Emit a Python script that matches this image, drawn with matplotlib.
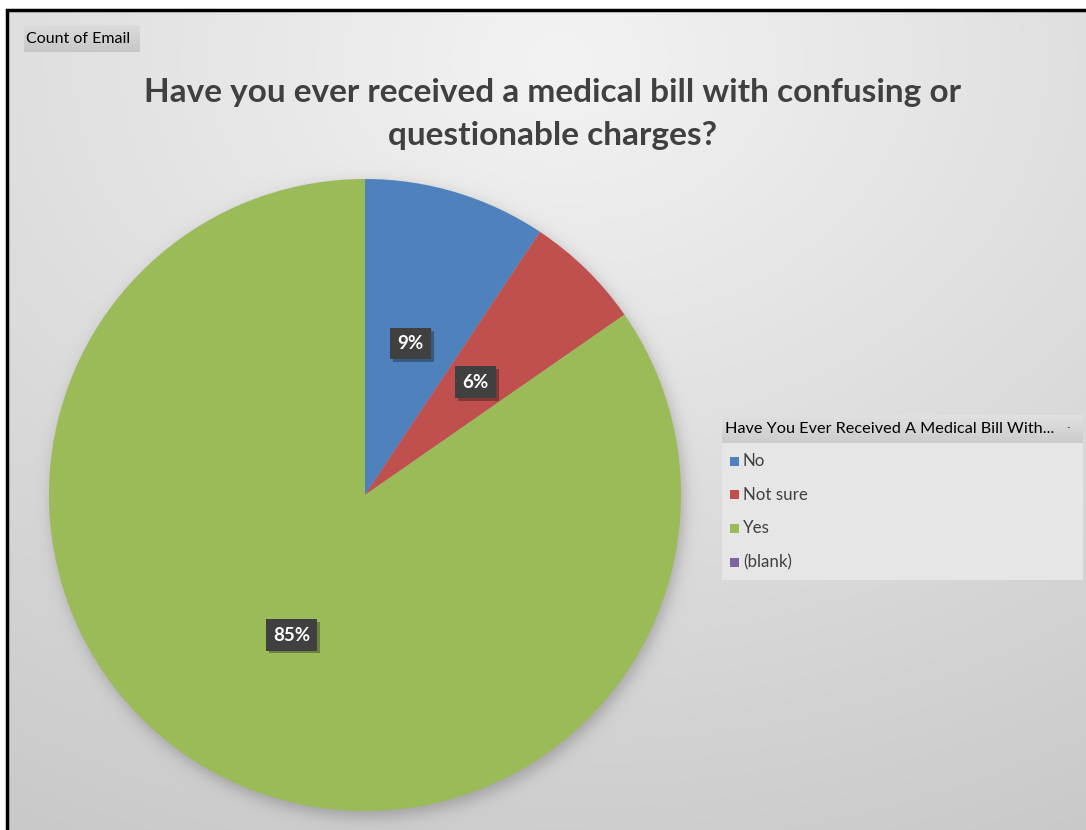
import numpy as np
import matplotlib
matplotlib.use("Agg")
import matplotlib.pyplot as plt
from matplotlib.patches import Rectangle
from matplotlib import patheffects as pe

plt.rcParams['font.family'] = ['Lato', 'DejaVu Sans']

# ---- data ----
categories = ["No", "Not sure", "Yes", "(blank)"]
counts = [14, 9, 127, 0]
colors = ["#4f81bd", "#c0504d", "#9bbb59", "#8064a2"]
title_lines = ["Have you ever received a medical bill with confusing or",
               "questionable charges?"]
legend_title = "Have You Ever Received A Medical Bill With..."
field_button = "Count of Email"

W, H = 1086, 830
fig = plt.figure(figsize=(W / 100, H / 100), dpi=100)

# ---- background: radial grey gradient with soft pie shadow ----
bg = fig.add_axes([0, 0, 1, 1])
bg.axis("off")
yy, xx = np.mgrid[0:H, 0:W] + 0.5
d = np.sqrt(((xx - 560) / W) ** 2 + ((yy - 60) / H) ** 2)
shade = 243 - 40 * d
cx, cy, R = 365, 495, 316
sd = np.sqrt((xx - cx - 3) ** 2 + (yy - cy - 6) ** 2) - R
shadow = 0.5 * (1 - np.tanh(sd / 9.0))
shade = shade * (1 - 0.22 * shadow)
img = np.clip(np.dstack([shade] * 3) / 255.0, 0, 1)
bg.imshow(img, extent=(0, W, H, 0), interpolation="bilinear", zorder=0)

# white margin and black frame line
bg.add_patch(Rectangle((0, 0), W, 9, fc="white", ec="none", zorder=1))
bg.add_patch(Rectangle((0, 0), 6, H, fc="white", ec="none", zorder=1))
bg.plot([7, 7, W], [H, 10, 10], color="black", lw=2.5, zorder=2, solid_joinstyle="miter")

# field button
btn = np.linspace(0.86, 0.78, 20)[:, None]
bg.imshow(np.dstack([btn] * 3), extent=(24, 140, 52, 25), aspect="auto", zorder=2)
bg.text(26, 39, field_button, fontsize=11.5, color="black", va="center", ha="left", zorder=3)

# title (two lines, baselines set explicitly)
for line, yb in zip(title_lines, [102, 145]):
    bg.text(553, yb, line, fontsize=24, fontweight="bold", color="#404040",
            ha="center", va="baseline", zorder=3)

# ---- pie ----
pax = fig.add_axes([(cx - R) / W, (H - cy - R) / H, 2 * R / W, 2 * R / H])
wedges, texts, autotexts = pax.pie(
    counts, colors=colors, startangle=90, counterclock=False, radius=1,
    autopct=lambda p: f"{p:.0f}%" if p > 0 else "", pctdistance=0.5,
    wedgeprops=dict(linewidth=0), frame=False)
pax.set_xlim(-1, 1)
pax.set_ylim(-1, 1)
pax.set_aspect("equal")
pax.axis("off")
for t in autotexts:
    t.set_color("white")
    t.set_fontweight("bold")
    t.set_fontsize(13.5)
    t.set_bbox(dict(boxstyle="square,pad=0.38", fc="#404040", ec="none"))
    t.get_bbox_patch().set_path_effects(
        [pe.withSimplePatchShadow(offset=(2, -2), shadow_rgbFace="black", alpha=0.3)])

# ---- legend ----
lx0, ly0, lx1, ly1 = 722, 415, 1083, 580
bg.add_patch(Rectangle((lx0, ly0), lx1 - lx0, ly1 - ly0, fc="#e6e6e6", ec="none", zorder=2))
hdr = np.linspace(0.88, 0.80, 20)[:, None]
bg.imshow(np.dstack([hdr] * 3), extent=(lx0, lx1, ly0 + 28, ly0), aspect="auto", zorder=3)
bg.text(lx0 + 3, ly0 + 14, legend_title, fontsize=11.7, color="black", va="center", ha="left", zorder=4)
bg.text(1068, ly0 + 13, "-", fontsize=7, color="#404040", va="center", ha="center", zorder=4)
for i, (name, col) in enumerate(zip(categories, colors)):
    y = 461 + i * 33.7
    bg.add_patch(Rectangle((730, y - 4.5), 9, 9, fc=col, ec="none", zorder=4))
    bg.text(743, y, name, fontsize=12.2, color="#404040", va="center", ha="left", zorder=4)

bg.set_xlim(0, W)
bg.set_ylim(H, 0)
fig.savefig("out.png", dpi=100)
